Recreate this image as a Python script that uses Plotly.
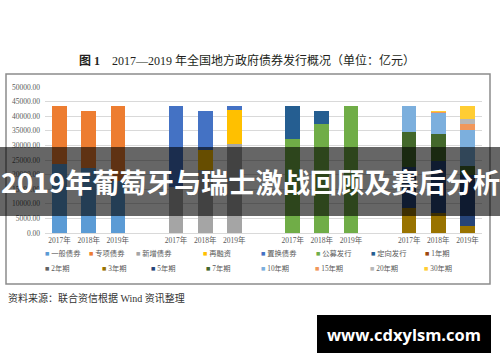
import plotly.graph_objects as go

# ---------------- data ----------------
years = ["2017年", "2018年", "2019年"]

general_bonds = [23619, 22192, 17742]      # 一般债券
special_bonds = [19962, 19460, 25882]      # 专项债券
new_bonds = [15898, 21705, 30561]          # 新增债券
refinance_bonds = [0, 6817, 11484]         # 再融资
replace_bonds = [27683, 13130, 1579]       # 置换债券
public_issue = [32200, 37278, 43624]       # 公募发行
private_issue = [11381, 4374, 0]           # 定向发行
term_1y = [0, 0, 0]
term_2y = [0, 0, 0]
term_3y = [8500, 6900, 2250]
term_5y = [14200, 17800, 17640]
term_7y = [11750, 9170, 3060]
term_10y = [9131, 7430, 12380]
term_15y = [0, 200, 1850]
term_20y = [0, 50, 1800]
term_30y = [0, 102, 4644]

series_names = ["一般债券", "专项债券", "新增债券", "再融资", "置换债券", "公募发行", "定向发行",
                "1年期", "2年期", "3年期", "5年期", "7年期", "10年期", "15年期", "20年期", "30年期"]
series_values = [general_bonds, special_bonds, new_bonds, refinance_bonds, replace_bonds,
                 public_issue, private_issue, term_1y, term_2y, term_3y, term_5y, term_7y,
                 term_10y, term_15y, term_20y, term_30y]
series_group = [0, 0, 1, 1, 1, 2, 2, 3, 3, 3, 3, 3, 3, 3, 3, 3]

y_tick_values = [0, 5000, 10000, 15000, 20000, 25000, 30000, 35000, 40000, 45000, 50000]

# ---------------- styles ----------------
series_colors = ["#5B9BD5", "#ED7D31", "#A5A5A5", "#FFC000", "#4472C4", "#70AD47", "#255E91",
                 "#9E480E", "#636363", "#997300", "#264478", "#43682B", "#7CAFDD", "#F1975A",
                 "#B7B7B7", "#FFCD33"]

W, H = 500, 362
ML, MR, MT, MB = 45, 18, 87, 129
SLOTS_PER_GROUP = 4  # 3 bars + 1 gap


def fx(p):
    return (p - ML) / (W - ML - MR)


def fy(p):
    return (H - MB - p) / (H - MT - MB)


def slot_positions(group):
    return [group * SLOTS_PER_GROUP + i for i in range(len(years))]


fig = go.Figure()
for name, vals, color, grp in zip(series_names, series_values, series_colors, series_group):
    fig.add_trace(go.Bar(
        x=slot_positions(grp), y=vals, name=name, width=0.5,
        marker=dict(color=color, line=dict(width=0)),
        showlegend=False,
    ))

n_groups = max(series_group) + 1
tickvals, ticktext = [], []
for g in range(n_groups):
    tickvals += slot_positions(g)
    ticktext += years

serif = "Liberation Serif, Noto Sans CJK SC, serif"
cjk = "Noto Sans CJK SC, sans-serif"

fig.update_layout(
    width=W, height=H,
    margin=dict(l=ML, r=MR, t=MT, b=MB),
    paper_bgcolor="white", plot_bgcolor="white",
    barmode="stack", bargap=0,
    showlegend=False,
    xaxis=dict(range=[-0.5, n_groups * SLOTS_PER_GROUP - 1.5], tickvals=tickvals, ticktext=ticktext,
               showgrid=False, zeroline=False, showline=True, linecolor="#D9D9D9", linewidth=1,
               ticks="", tickfont=dict(family=serif, size=7.5, color="#595959")),
    yaxis=dict(range=[0, 50000], tickvals=y_tick_values, tickformat=".2f",
               showgrid=True, gridcolor="#D9D9D9", gridwidth=1, zeroline=False, showline=False,
               ticks="", ticklabelstandoff=4,
               tickfont=dict(family=serif, size=7.5, color="#595959")),
)

shapes = []
annotations = []

# chart frame
shapes.append(dict(type="rect", xref="paper", yref="paper", x0=fx(6), x1=fx(490), y0=fy(284), y1=fy(74),
                   line=dict(color="#8C8C8C", width=1.5), fillcolor="rgba(0,0,0,0)", layer="below"))

# manual legend (Excel style)
legend_cols_row1 = [45.7, 90, 136.7, 204, 262.3, 316.7, 371.7, 425.7]
legend_cols_row2 = [45.7, 103, 151.7, 206.7, 262.3, 316, 370.7, 425]
legend_rows_y = [253, 268]
per_row = 8
for i, (name, color) in enumerate(zip(series_names, series_colors)):
    row = i // per_row
    col = i % per_row
    xs = legend_cols_row1 if row == 0 else legend_cols_row2
    annotations.append(dict(
        xref="paper", yref="paper", x=fx(xs[col] - 3), y=fy(legend_rows_y[row]),
        xanchor="left", yanchor="middle", showarrow=False,
        text=f"<span style='color:{color}'>■</span> {name}",
        font=dict(family=serif, size=7.3, color="#595959"),
    ))

# title
annotations.append(dict(
    xref="paper", yref="paper", x=fx(246.5), y=fy(60.5), xanchor="center", yanchor="middle",
    showarrow=False,
    text="<b>图 1</b>\u00a0\u00a0\u00a0\u00a02017—2019 年全国地方政府债券发行概况（单位：亿元）",
    font=dict(family=serif, size=12.0, color="#231F20"),
))

# source note
annotations.append(dict(
    xref="paper", yref="paper", x=fx(6), y=fy(298), xanchor="left", yanchor="middle",
    showarrow=False, text="资料来源：联合资信根据 Wind 资讯整理",
    font=dict(family=serif, size=10, color="#333333"),
))

# dark banner overlay
shapes.append(dict(type="rect", xref="paper", yref="paper", x0=fx(0), x1=fx(500), y0=fy(216), y1=fy(147),
                   line=dict(width=0), fillcolor="rgba(0,0,0,0.6)", layer="above"))
annotations.append(dict(
    xref="paper", yref="paper", x=fx(250), y=fy(180.5), xanchor="center", yanchor="middle",
    showarrow=False, text="<b>2019年葡萄牙与瑞士激战回顾及赛后分析</b>",
    font=dict(family=cjk, size=27.2, color="white"),
))

# watermark
shapes.append(dict(type="rect", xref="paper", yref="paper", x0=fx(317), x1=fx(491), y0=fy(353), y1=fy(315),
                   line=dict(width=0), fillcolor="black", layer="above"))
annotations.append(dict(
    xref="paper", yref="paper", x=fx(404), y=fy(334), xanchor="center", yanchor="middle",
    showarrow=False, text="<b>www.cdxylsm.com</b>",
    font=dict(family="Open Sans, sans-serif", size=16.5, color="white"),
))

fig.update_layout(shapes=shapes, annotations=annotations)
fig.write_html("out.html", config={"displayModeBar": False},
               post_script="document.body.style.margin='0';")
